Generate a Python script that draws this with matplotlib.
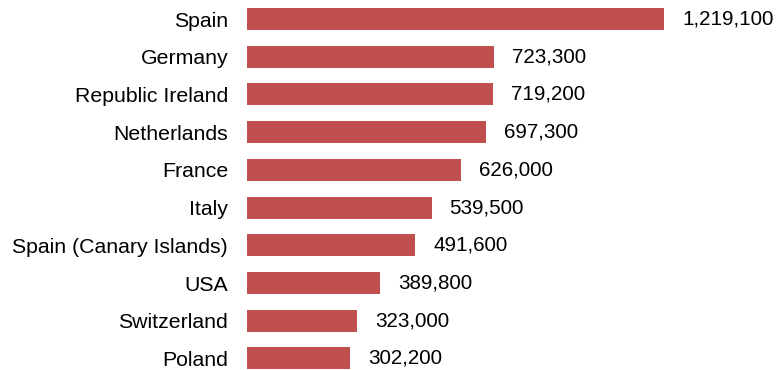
import matplotlib
matplotlib.use("Agg")
import matplotlib.pyplot as plt

countries = ["Spain", "Germany", "Republic Ireland", "Netherlands", "France",
             "Italy", "Spain (Canary Islands)", "USA", "Switzerland", "Poland"]
values = [1219100, 723300, 719200, 697300, 626000,
          539500, 491600, 389800, 323000, 302200]

plt.rcParams['font.family'] = ['Liberation Sans', 'DejaVu Sans']

fig = plt.figure(figsize=(7.78, 3.70), dpi=100)
ax = fig.add_axes([247 / 778, 0, 417 / 778, 1])

pos = list(range(len(countries)))
ax.barh(pos, values, height=0.583, color="#C0504D")
ax.set_xlim(0, max(values))
ax.set_ylim(9.305, -0.504)

ax.set_yticks(pos)
ax.set_yticklabels(countries, fontsize=15.3, color="#000000")
ax.tick_params(axis="y", length=0, pad=13.5)
ax.set_xticks([])
for s in ax.spines.values():
    s.set_visible(False)

for p, v in zip(pos, values):
    ax.annotate(f"{v:,}", (v, p), xytext=(13, 0), textcoords="offset points",
                va="center", ha="left", fontsize=14.9, annotation_clip=False)

fig.savefig("out.png", dpi=100)
